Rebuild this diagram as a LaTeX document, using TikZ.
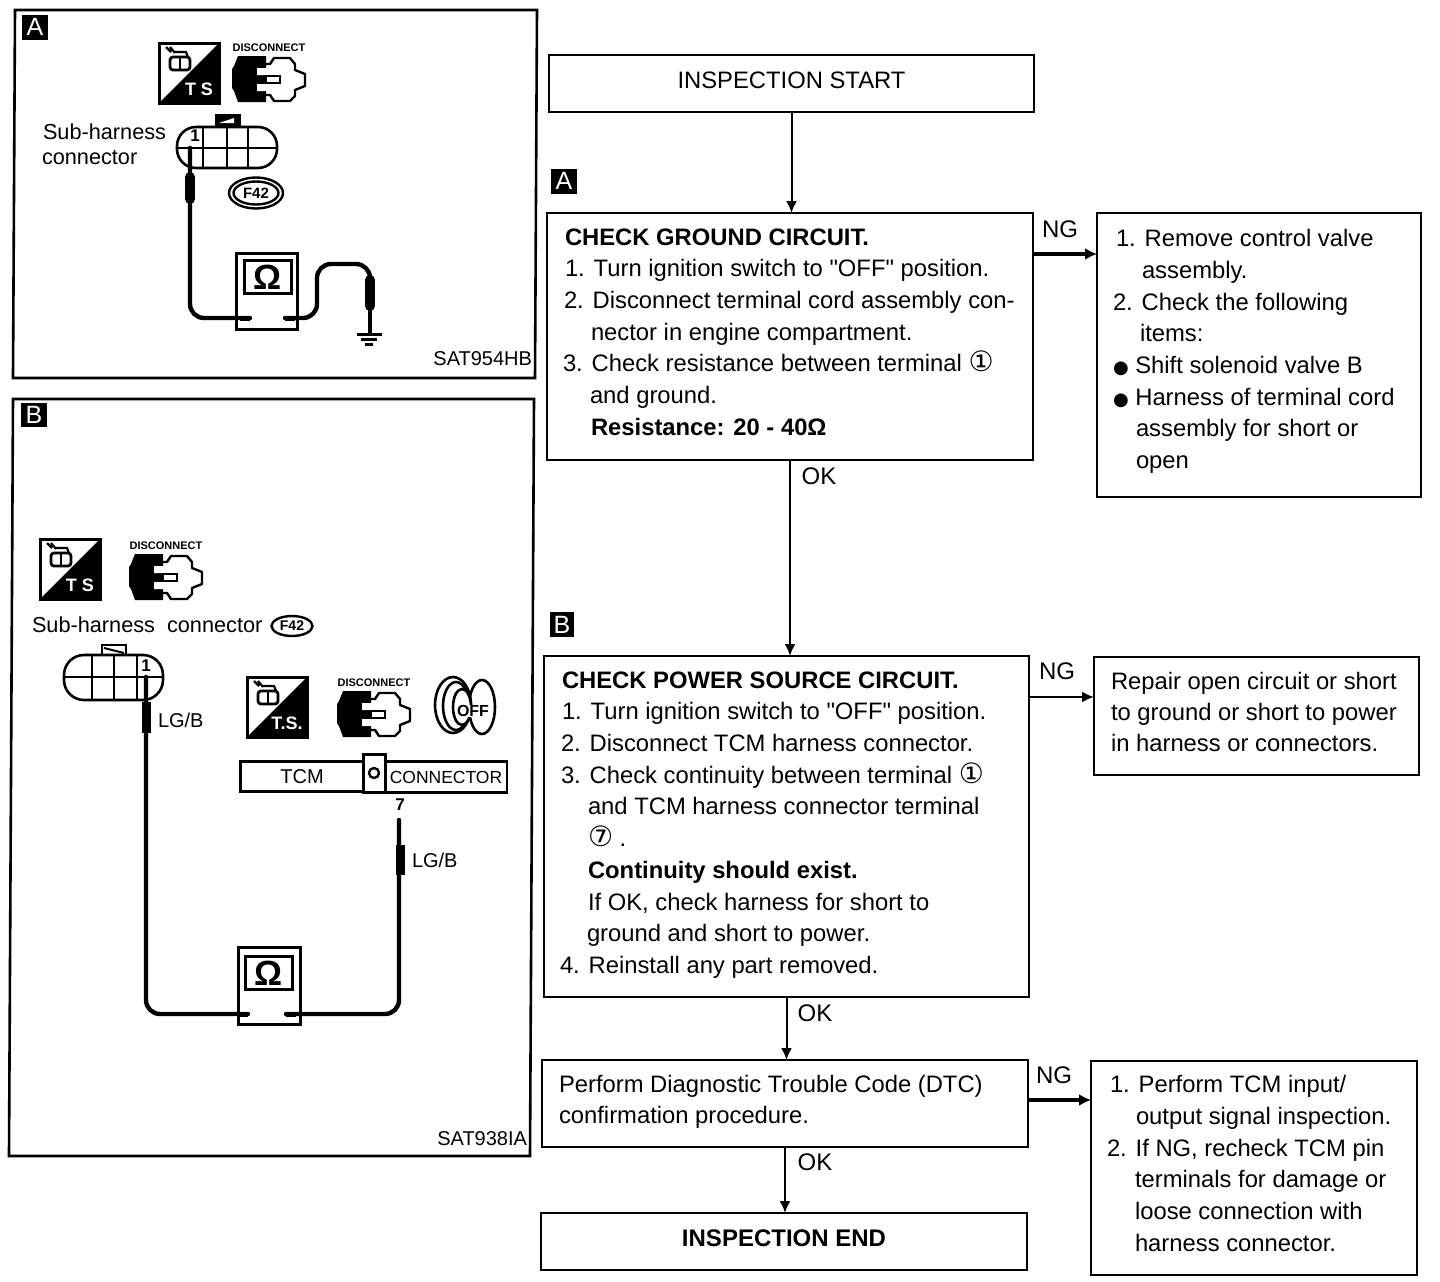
\documentclass[tikz,border=0pt]{standalone}
\usepackage{fontspec}
\setmainfont{Liberation Sans}
\newfontfamily\dejavu{DejaVu Sans}
\newfontfamily\qfont{Liberation Sans}
\usetikzlibrary{arrows.meta,shapes.geometric}
\newcommand{\circnum}[1]{{\dejavu\fontsize{28}{31.7}\selectfont #1}}
\newcommand{\bul}{{\dejavu\fontsize{18}{31.7}\selectfont ●}}
\newcommand{\qmark}{{\qfont "}}
\tikzset{
  box/.style={draw=black,line width=2.4pt,fill=white,inner sep=0pt,outer sep=0pt,font=\fontsize{23.8}{31.7}\selectfont},
  thinbox/.style={box,line width=1.8pt},
  txt/.style={anchor=north west,inner sep=0pt,outer sep=0pt,align=left,font=\fontsize{23.8}{31.7}\selectfont},
  lab/.style={inner sep=0pt,outer sep=0pt,font=\fontsize{24}{28}\selectfont},
  small/.style={inner sep=0pt,outer sep=0pt,font=\fontsize{20}{24}\selectfont},
  arr/.style={line width=2pt,-{Latex[length=12pt,width=11pt]}},
  arrthick/.style={line width=3.2pt,-{Latex[length=12pt,width=12pt]}},
  panel/.style={draw=black,line width=2.6pt,fill=white},
  badge/.style={fill=black,text=white,inner sep=0pt,outer sep=0pt,minimum width=26pt,minimum height=25pt,font=\fontsize{25}{28}\selectfont},
  wire/.style={line width=4.4pt,line cap=round,rounded corners=14pt},
  plug/.style={line width=10pt,line cap=round},
  instr/.style={draw=black,line width=3pt,fill=white,inner sep=0pt,outer sep=0pt,minimum width=61pt,minimum height=76pt},
  window/.style={draw=black,line width=3pt,fill=white,inner sep=0pt,outer sep=0pt,minimum width=47pt,minimum height=33pt,font=\bfseries\fontsize{35}{35}\selectfont},
  harness/.style={draw=black,line width=2.6pt,fill=white},
  pinlab/.style={inner sep=0pt,outer sep=0pt,font=\bfseries\fontsize{17}{20}\selectfont},
  fbadge/.style={draw=black,line width=2.4pt,ellipse,inner sep=0pt},
  tsicon/.pic={
    \draw[black,line width=3pt,fill=white] (0,0) rectangle (60,60);
    \fill[black] (60,0) -- (60,60) -- (0,60) -- cycle;
    \draw[line width=2.8pt,rounded corners=3pt] (11,14) rectangle (31,27);
    \draw[line width=2.4pt] (21,14) -- (21,27);
    \draw[line width=2.2pt] (7,4) -- (12,9) (11,4) -- (16,10) (15,9) -- (27,9) -- (29,14);
    \node[text=white,inner sep=0pt,font=\bfseries\fontsize{18}{20}\selectfont] (-t) at (40,46) {\tikzpictext};
  },
  discicon/.pic={
    \node[inner sep=0pt,font=\bfseries\fontsize{11}{12}\selectfont] (-t) at (37,-7) {DISCONNECT};
    \draw[black,line width=2.4pt,fill=white,line join=round] (28,9) -- (38,9) -- (42,3) -- (58,3) -- (63,9) -- (63,15) -- (73,19) -- (73,31) -- (63,35) -- (63,41) -- (58,46) -- (42,46) -- (38,40) -- (28,40);
    \fill[black] (6,1) -- (34,1) -- (34,47) -- (6,47) -- (2,36) -- (0,33) -- (0,14) -- (2,11) -- cycle;
    \fill[white] (25,13) rectangle (38,20) (25,29) rectangle (38,36);
    \draw[line width=2.2pt,fill=white] (34,21) rectangle (48,28);
  },
}
\begin{document}
\begin{tikzpicture}[x=1pt,y=-1pt]
\useasboundingbox (0,0) rectangle (1440,1282);
\fill[white] (0,0) rectangle (1440,1282);

% ---------- left panels ----------
\draw[panel] (15,10) -- (537,10) -- (535,378) -- (13,378) -- cycle;
\draw[panel] (13,399) -- (534,399) -- (530,1156) -- (9,1156) -- cycle;
\node[badge] (badgePA) at (35,27) {A};
\node[badge,minimum height=24pt] (badgePB) at (34,415) {B};

% panel A
\pic[pic text={T S}] (tsA) at (159,43) {tsicon};
\pic (discA) at (232,55) {discicon};
\node[small,anchor=west,font=\fontsize{21.7}{24}\selectfont] (subA1) at (43,132) {Sub-harness};
\node[small,anchor=west,font=\fontsize{21.7}{24}\selectfont] (subA2) at (42,158) {connector};
\draw[harness,fill=black] (216,125) rectangle (240,115);
\fill[white] (219,123) -- (234,123) -- (234,118) -- cycle;
\draw[harness,rounded corners=19pt] (177,127) rectangle (277,168);
\draw[line width=2.6pt] (177,148) -- (277,148) (203,127) -- (203,168) (227,127) -- (227,168) (248,127) -- (248,168);
\node[pinlab] (pinA) at (195,136) {1};
\node[fbadge,minimum width=54pt,minimum height=31pt] (fA) at (256,193) {};
\node[fbadge,minimum width=45pt,minimum height=23pt,font=\bfseries\fontsize{15}{16}\selectfont] (fAi) at (256,193) {F42};

\node[instr] (meterA) at (266.5,291) {};
\node[window] (winA) at (268,277) {Ω};
\coordinate (pA) at (190,148);
\coordinate (tA1) at (250,318);
\coordinate (tA2) at (285,318);
\coordinate (gA) at (370,334);
\draw[wire] (pA) |- (tA1);
\draw[wire] (tA2) -- (317,318) -- (317,264) -- (370,264) -- (370,290);
\draw[line width=3.4pt] (370,290) -- (gA);
\draw[plug] (190,177) -- (190,199);
\draw[plug] (370,280) -- (370,306);
\draw[line width=5pt] (tA1) -- ++(-10,0) (tA2) -- ++(10,0);
\draw[line width=3pt] (357,334) -- (382,334);
\draw[line width=3pt] (361,339) -- (377,339);
\draw[line width=3pt] (365,344) -- (373,344);
\node[small,anchor=east] (satA) at (532,359) {SAT954HB};
\node[small,anchor=east] (satB) at (527,1139) {SAT938IA};

% panel B
\pic[pic text={T S}] (tsB) at (40,539) {tsicon};
\pic (discB) at (129,553) {discicon};
\node[small,anchor=west,font=\fontsize{21.7}{24}\selectfont] (subB) at (32,625) {Sub-harness\ \ connector};
\node[fbadge,minimum width=41pt,minimum height=20pt,font=\bfseries\fontsize{14}{16}\selectfont] (fB) at (292,626) {F42};
\draw[harness,fill=white] (102,655) rectangle (126,645);
\draw[line width=2pt] (104,648) -- (124,653);
\draw[harness,rounded corners=20pt] (64,655) rectangle (163,700);
\draw[line width=2.6pt] (64,677) -- (163,677) (92,655) -- (92,700) (114,655) -- (114,700) (137,655) -- (137,700);
\node[pinlab] (pinB) at (146,666) {1};
\coordinate (pB) at (146,677);
\node[instr,minimum width=62pt,minimum height=77pt] (meterB) at (269,985.5) {};
\node[window] (winB) at (269,973) {Ω};
\coordinate (tB1) at (248,1014);
\coordinate (tB2) at (286,1014);
\coordinate (pB2) at (399,820);
\draw[wire] (pB) |- (tB1);
\draw[wire] (tB2) -| (pB2);
\draw[line width=9pt] (146,702) -- (146,733);
\draw[line width=9pt] (400,845) -- (400,875);
\draw[line width=5pt] (tB1) -- ++(-8,0) (tB2) -- ++(10,0);
\node[small,anchor=west] (lgb1) at (158,720) {LG/B};
\node[small,anchor=west] (lgb2) at (412,860) {LG/B};
\pic[pic text={T.S.}] (tsC) at (247,677) {tsicon};
\pic (discC) at (337,690) {discicon};
% ignition key
\draw[line width=2.6pt,fill=white] (482,707) ellipse (13 and 27);
\draw[line width=2.6pt,fill=white] (453,705) ellipse (18 and 28);
\draw[line width=2.6pt,fill=white] (456,706) ellipse (13 and 24);
\draw[line width=2.6pt,fill=white] (462,707) ellipse (9 and 18);
\node[inner sep=0pt,fill=white,font=\bfseries\fontsize{16}{18}\selectfont] (off) at (473,711) {OFF};
\node[draw=black,line width=2.6pt,fill=white,inner sep=0pt,outer sep=0pt,minimum width=123pt,minimum height=30pt,small] (tcm) at (302,776.5) {TCM};
\node[draw=black,line width=2.6pt,fill=white,inner sep=0pt,outer sep=0pt,minimum width=122pt,minimum height=31pt,small,font=\fontsize{17.5}{20}\selectfont] (conn) at (446,777) {CONNECTOR};
\draw[line width=3pt,fill=white] (363,754) rectangle (385,792);
\draw[line width=2.4pt] (374,773) circle (5);
\node[pinlab] (seven) at (400,805) {7};

% ---------- flow chart ----------
\node[box,minimum width=485pt,minimum height=57pt] (start) at (791.5,83.5) {\raisebox{6pt}{INSPECTION START}};
\node[badge] (badgeA) at (564,181) {A};
\node[box,minimum width=486pt,minimum height=247pt] (ground) at (790,336.5) {};
\node[box,minimum width=324pt,minimum height=284pt] (remove) at (1259,355) {};
\node[badge,minimum width=24pt] (badgeB) at (562,624.5) {B};
\node[box,minimum width=485pt,minimum height=341pt] (power) at (786.5,826.5) {};
\node[thinbox,minimum width=325pt,minimum height=118pt] (repair) at (1256.5,716) {};
\node[box,minimum width=486pt,minimum height=87pt] (dtc) at (785,1103.5) {};
\node[thinbox,minimum width=326pt,minimum height=214pt] (tcmcheck) at (1254,1168) {};
\node[box,minimum width=486pt,minimum height=57pt,font=\bfseries\fontsize{24}{28}\selectfont] (finish) at (784,1241.5) {\raisebox{6pt}{INSPECTION END}};

\node[txt] (groundtxt) at (563,228.5) {\hspace*{2pt}\textbf{CHECK GROUND CIRCUIT.}\\
\hspace*{2pt}1. Turn ignition switch to \qmark OFF\qmark{} position.\\
\hspace*{1pt}2. Disconnect terminal cord assembly con-\\
\hspace*{28pt}nector in engine compartment.\\
3. Check resistance between terminal \circnum{①}\\
\hspace*{27pt}and ground.\\
\hspace*{28pt}\textbf{Resistance: 20 - 40Ω}};

\node[txt] (removetxt) at (1113,229.5) {\hspace*{3pt}1. Remove control valve\\
\hspace*{29pt}assembly.\\
2. Check the following\\
\hspace*{27pt}items:\\
\bul\ Shift solenoid valve B\\
\bul\ Harness of terminal cord\\
\hspace*{23pt}assembly for short or\\
\hspace*{23pt}open};

\node[txt] (powertxt) at (560,671.5) {\hspace*{2pt}\textbf{CHECK POWER SOURCE CIRCUIT.}\\
\hspace*{2pt}1. Turn ignition switch to \qmark OFF\qmark{} position.\\
\hspace*{1pt}2. Disconnect TCM harness connector.\\
\hspace*{1pt}3. Check continuity between terminal \circnum{①}\\
\hspace*{28pt}and TCM harness connector terminal\\
\hspace*{28pt}\circnum{⑦} .\\
\hspace*{28pt}\textbf{Continuity should exist.}\\
\hspace*{28pt}If OK, check harness for short to\\
\hspace*{27pt}ground and short to power.\\
4. Reinstall any part removed.};

\node[txt,font=\fontsize{23.8}{31.1}\selectfont] (repairtxt) at (1111,672.5) {Repair open circuit or short\\to ground or short to power\\in harness or connectors.};
\node[txt,font=\fontsize{23.8}{31.1}\selectfont] (dtctxt) at (559,1075.5) {Perform Diagnostic Trouble Code (DTC)\\confirmation procedure.};
\node[txt] (tcmtxt) at (1107,1075.5) {\hspace*{3pt}1. Perform TCM input/\\
\hspace*{29pt}output signal inspection.\\
2. If NG, recheck TCM pin\\
\hspace*{28pt}terminals for damage or\\
\hspace*{28pt}loose connection with\\
\hspace*{28pt}harness connector.};

\draw[arr] (start.south) -- (start.south |- ground.north);
\draw[arr] (ground.south) -- (ground.south |- power.north);
\draw[arr] (power.south) -- (power.south |- dtc.north);
\draw[arr] (dtc.south) -- (dtc.south |- finish.north);
\coordinate (ng1) at ([yshift=-41pt]ground.north east);
\coordinate (ng2) at ([yshift=-41pt]power.north east);
\coordinate (ng3) at ([yshift=-40pt]dtc.north east);
\draw[arrthick] (ng1) -- (ng1 -| remove.west);
\draw[arr] (ng2) -- (ng2 -| repair.west);
\draw[arrthick] (ng3) -- (ng3 -| tcmcheck.west);

\node[lab] (ngA) at (1060,229) {NG};
\node[lab] (ngB) at (1057,671) {NG};
\node[lab] (ngC) at (1054,1075) {NG};
\node[lab] (okA) at (819,476) {OK};
\node[lab] (okB) at (815,1013) {OK};
\node[lab] (okC) at (815,1162) {OK};
\end{tikzpicture}
\end{document}
